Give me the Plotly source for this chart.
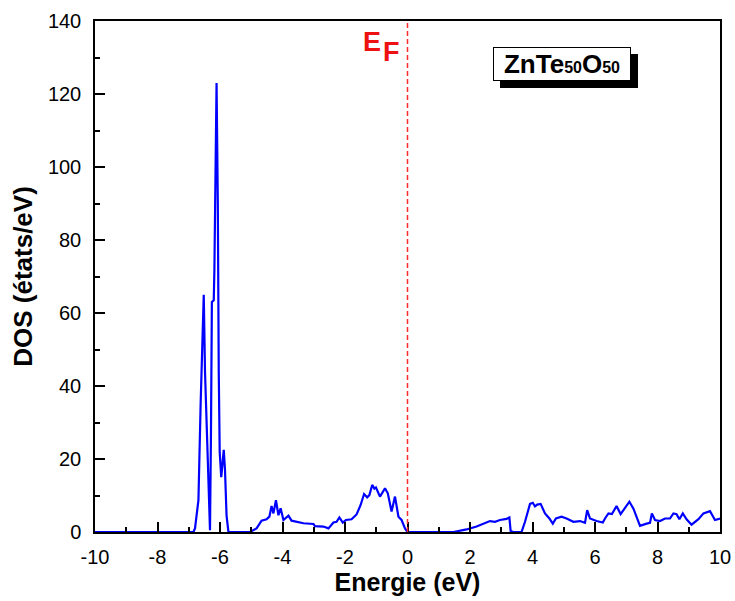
import plotly.graph_objects as go

# Energy (eV) and total DOS (states/eV)
energy = [-10.0, -6.85, -6.80, -6.69, -6.62, -6.52, -6.48, -6.45, -6.39, -6.34, -6.32,
          -6.29, -6.26, -6.20, -6.18, -6.11, -6.07, -6.04, -6.01, -5.96, -5.88, -5.84,
          -5.79, -5.73,
          -5.04, -4.83, -4.67, -4.51, -4.42, -4.35, -4.29, -4.21, -4.13, -4.06, -3.97,
          -3.81, -3.71, -3.33, -3.01, -2.96, -2.69, -2.53, -2.37, -2.27, -2.18, -2.07,
          -1.97, -1.79, -1.63, -1.50, -1.39, -1.29, -1.22, -1.13, -1.06, -1.01, -0.93,
          -0.88, -0.72, -0.63, -0.51, -0.40, -0.29, -0.19, -0.08, 0.0,
          1.47, 1.89, 2.21, 2.64, 2.80, 2.96, 3.17, 3.26, 3.30, 3.38, 3.65, 3.76, 3.92,
          4.01, 4.08, 4.15, 4.26, 4.40, 4.54, 4.65, 4.75, 4.93, 5.09, 5.31, 5.52, 5.68,
          5.75, 5.84, 6.05, 6.25, 6.32, 6.43, 6.54, 6.69, 6.82, 6.93, 7.10, 7.23, 7.44,
          7.65, 7.76, 7.82, 7.92, 8.08, 8.24, 8.40, 8.51, 8.61, 8.70, 8.81, 8.93, 9.09,
          9.31, 9.47, 9.57, 9.68, 9.84, 10.0]
dos = [0.0, 0.0, 1.0, 8.7, 35.0, 65.0, 44.0, 36.0, 17.0, 2.0, 0.5,
       26.0, 63.0, 63.5, 71.6, 123.0, 90.0, 44.0, 22.0, 15.0, 22.5, 17.0,
       4.5, 0.0,
       0.0, 1.0, 3.1, 3.5, 4.2, 7.1, 5.1, 8.7, 4.6, 6.5, 3.3,
       4.5, 3.1, 2.4, 2.2, 1.6, 1.5, 1.0, 2.6, 2.8, 4.0, 2.6,
       3.3, 3.5, 4.8, 7.4, 10.4, 9.5, 10.1, 12.9, 11.9, 12.2, 10.6,
       9.7, 12.0, 10.6, 5.6, 9.7, 4.2, 3.3, 1.0, 0.0,
       0.0, 0.7, 1.5, 3.0, 2.8, 3.3, 3.6, 4.0, 0.3, 0.0, 0.0, 2.8, 7.7,
       8.0, 7.0, 7.5, 7.7, 5.1, 3.7, 2.3, 3.7, 4.2, 3.7, 2.8, 3.0, 2.5,
       6.0, 3.7, 3.0, 2.6, 3.7, 5.1, 4.9, 7.1, 4.9, 6.2, 8.3, 6.4, 1.7,
       2.3, 2.5, 5.1, 3.3, 3.0, 3.7, 3.7, 5.1, 4.9, 3.5, 5.1, 3.5, 2.0,
       3.5, 5.1, 5.3, 5.7, 3.3, 3.7]

fermi_level = 0.0
x_ticks = [-10, -8, -6, -4, -2, 0, 2, 4, 6, 8, 10]
y_ticks = [0, 20, 40, 60, 80, 100, 120, 140]

FONT = "Arial, Liberation Sans, sans-serif"

fig = go.Figure()
fig.add_trace(go.Scatter(x=energy, y=dos, mode="lines",
                         line=dict(color="#0000ff", width=2.2), showlegend=False,
                         hoverinfo="skip"))

fig.add_vline(x=fermi_level, line=dict(color="#ff2a2a", width=1.5, dash="5px,3px"))

axis_common = dict(
    showgrid=False, zeroline=False, showline=True, linecolor="black", linewidth=1.5,
    mirror=True, ticks="inside", ticklen=10, tickwidth=1.5, tickcolor="black",
    automargin=False,
    tickfont=dict(family=FONT, size=20, color="black"),
)

fig.update_xaxes(range=[-10, 10], tickvals=x_ticks, ticktext=[str(v) for v in x_ticks],
                 title=dict(text="<b>Energie (eV)</b>", font=dict(family=FONT, size=25, color="black"),
                            standoff=6),
                 minor=dict(ticks="inside", ticklen=5, tickwidth=1.5, tickcolor="black", dtick=1),
                 ticklabelstandoff=6, **axis_common)
fig.update_yaxes(range=[0, 140], tickvals=y_ticks, ticktext=[str(v) for v in y_ticks],
                 title=dict(text="<b>DOS (états/eV)</b>", font=dict(family=FONT, size=26, color="black"),
                            standoff=8),
                 minor=dict(ticks="inside", ticklen=5, tickwidth=1.5, tickcolor="black", dtick=10),
                 ticklabelstandoff=8, **axis_common)

label = "<b>ZnTe<span style='font-size:16px'>50</span>O<span style='font-size:16px'>50</span></b>"
box_common = dict(xref="paper", yref="paper", x=0.747, y=0.916, showarrow=False,
                  width=134, height=30, borderpad=1, borderwidth=1,
                  font=dict(family=FONT, size=26, color="black"), xanchor="center", yanchor="middle")
fig.add_annotation(text=" ", bgcolor="black", bordercolor="black", xshift=7, yshift=-7, **box_common)
fig.add_annotation(text=label, bgcolor="white", bordercolor="black", **box_common)

fig.add_annotation(text="<b>E</b>", xref="paper", yref="paper", x=0.443, y=0.958, showarrow=False,
                   font=dict(family=FONT, size=27, color="#ee1111"), xanchor="center", yanchor="middle")
fig.add_annotation(text="<b>F</b>", xref="paper", yref="paper", x=0.474, y=0.94, showarrow=False,
                   font=dict(family=FONT, size=27, color="#ee1111"), xanchor="center", yanchor="middle")

fig.update_layout(width=735, height=601, paper_bgcolor="white", plot_bgcolor="white",
                  margin=dict(l=95, r=15, t=21, b=69), font=dict(family=FONT))

fig.write_html("out.html")
